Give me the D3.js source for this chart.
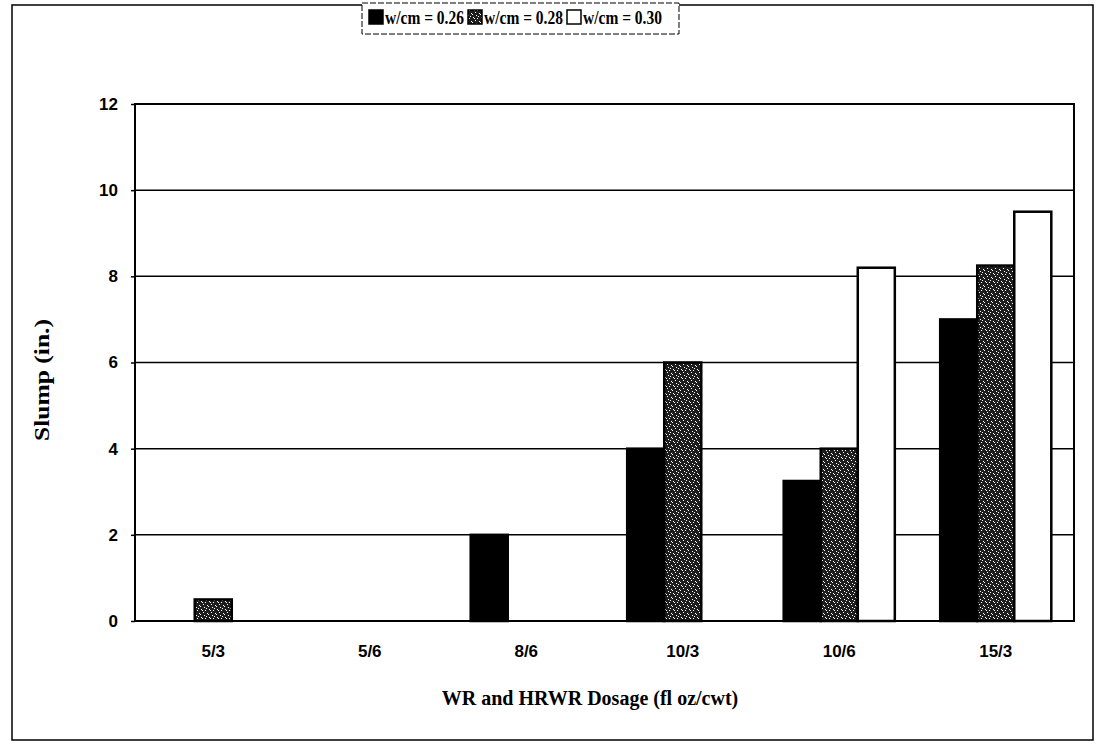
<!DOCTYPE html>
<html>
<head>
<meta charset="utf-8">
<script src="https://cdn.jsdelivr.net/npm/d3@7"></script>
<style>
  html, body { margin: 0; padding: 0; background: #fff; }
  svg { display: block; }
</style>
</head>
<body>
<svg id="chart" width="1100" height="749"></svg>
<script>
const categories = ["5/3", "5/6", "8/6", "10/3", "10/6", "15/3"];
const seriesNames = ["w/cm = 0.26", "w/cm = 0.28", "w/cm = 0.30"];
const wcm026 = [0, 0, 2.0, 4.0, 3.25, 7.0];
const wcm028 = [0.5, 0, 0, 6.0, 4.0, 8.25];
const wcm030 = [0, 0, 0, 0, 8.2, 9.5];
const yTicks = [0, 2, 4, 6, 8, 10, 12];
const xTitle = "WR and HRWR Dosage (fl oz/cwt)";
const yTitle = "Slump (in.)";

const svg = d3.select("#chart");
const margin = {left: 135, top: 104, right: 1074, bottom: 621};

// pattern for stippled series
const defs = svg.append("defs");
const pat = defs.append("pattern").attr("id", "stip").attr("patternUnits", "userSpaceOnUse")
  .attr("width", 8).attr("height", 8);
pat.append("rect").attr("width", 8).attr("height", 8).attr("fill", "#1e1e1e");
[[1,1],[5,2],[3,4],[7,5],[0,6],[4,7],[2,2],[6,0]].forEach(p => {
  pat.append("rect").attr("x", p[0]).attr("y", p[1]).attr("width", 1).attr("height", 1).attr("fill", "#fff");
});
const fills = ["#000", "url(#stip)", "#fff"];

// outer frame
svg.append("rect").attr("x", 12).attr("y", 5).attr("width", 1081).attr("height", 735)
  .attr("fill", "none").attr("stroke", "#000").attr("stroke-width", 1.5);

const x0 = d3.scaleBand().domain(categories).range([margin.left, margin.right]).paddingInner(0.29).paddingOuter(0.145);
const x1 = d3.scaleBand().domain(seriesNames).range([0, x0.bandwidth()]);
const y = d3.scaleLinear().domain([0, 12]).range([margin.bottom, margin.top]);

// gridlines
svg.append("g").selectAll("line").data(yTicks.slice(1, -1)).join("line")
  .attr("x1", margin.left).attr("x2", margin.right)
  .attr("y1", d => y(d)).attr("y2", d => y(d))
  .attr("stroke", "#000").attr("stroke-width", 1.5);

// bars
const seriesData = [wcm026, wcm028, wcm030];
seriesData.forEach((vals, si) => {
  svg.append("g").selectAll("rect").data(vals.map((v, i) => ({v, c: categories[i]})).filter(d => d.v > 0)).join("rect")
    .attr("x", d => x0(d.c) + x1(seriesNames[si]))
    .attr("y", d => y(d.v))
    .attr("width", x1.bandwidth())
    .attr("height", d => y(0) - y(d.v))
    .attr("fill", fills[si])
    .attr("stroke", "#000").attr("stroke-width", 2.5);
});

// plot frame
svg.append("rect").attr("x", margin.left).attr("y", margin.top)
  .attr("width", margin.right - margin.left).attr("height", margin.bottom - margin.top)
  .attr("fill", "none").attr("stroke", "#000").attr("stroke-width", 2);

// y axis
const yAxis = svg.append("g").attr("transform", `translate(${margin.left},0)`)
  .call(d3.axisLeft(y).tickValues(yTicks).tickSize(4).tickPadding(13));
yAxis.select(".domain").remove();
yAxis.selectAll("line").attr("stroke", "#000").attr("stroke-width", 1.5);
yAxis.selectAll("text").attr("font-family", "Liberation Sans, Arial, sans-serif")
  .attr("font-weight", "bold").attr("font-size", 17).attr("fill", "#000");

// x axis
const xAxis = svg.append("g").attr("transform", `translate(0,${margin.bottom})`)
  .call(d3.axisBottom(x0).tickSize(0).tickPadding(24));
xAxis.select(".domain").remove();
xAxis.selectAll("text").attr("font-family", "Liberation Sans, Arial, sans-serif")
  .attr("font-weight", "bold").attr("font-size", 17).attr("fill", "#000");

// titles
svg.append("text").attr("x", 590).attr("y", 705).attr("text-anchor", "middle")
  .attr("font-family", "Liberation Serif, Times New Roman, serif").attr("font-weight", "bold")
  .attr("font-size", 20).text(xTitle);
svg.append("text").attr("transform", "translate(49,380) rotate(-90)").attr("text-anchor", "middle")
  .attr("font-family", "Liberation Serif, Times New Roman, serif").attr("font-weight", "bold")
  .attr("font-size", 22).attr("textLength", 122).attr("lengthAdjust", "spacingAndGlyphs").text(yTitle);

// legend
const lg = svg.append("g");
const box = lg.append("rect").attr("x", 362).attr("y", 3).attr("height", 31)
  .attr("fill", "#fff").attr("stroke", "#000").attr("stroke-width", 1).attr("stroke-dasharray", "6,2");
let lx = 369;
seriesNames.forEach((n, i) => {
  lg.append("rect").attr("x", lx).attr("y", 10).attr("width", 14).attr("height", 14)
    .attr("fill", fills[i]).attr("stroke", "#000").attr("stroke-width", 1.5);
  lg.append("text").attr("x", lx + 16).attr("y", 24)
    .attr("font-family", "Liberation Serif, Times New Roman, serif").attr("font-weight", "bold")
    .attr("font-size", 19).attr("textLength", 79).attr("lengthAdjust", "spacingAndGlyphs").text(n);
  lx += 16 + 79 + 4;
});
box.attr("width", lx - 362 + 13);
</script>
</body>
</html>
